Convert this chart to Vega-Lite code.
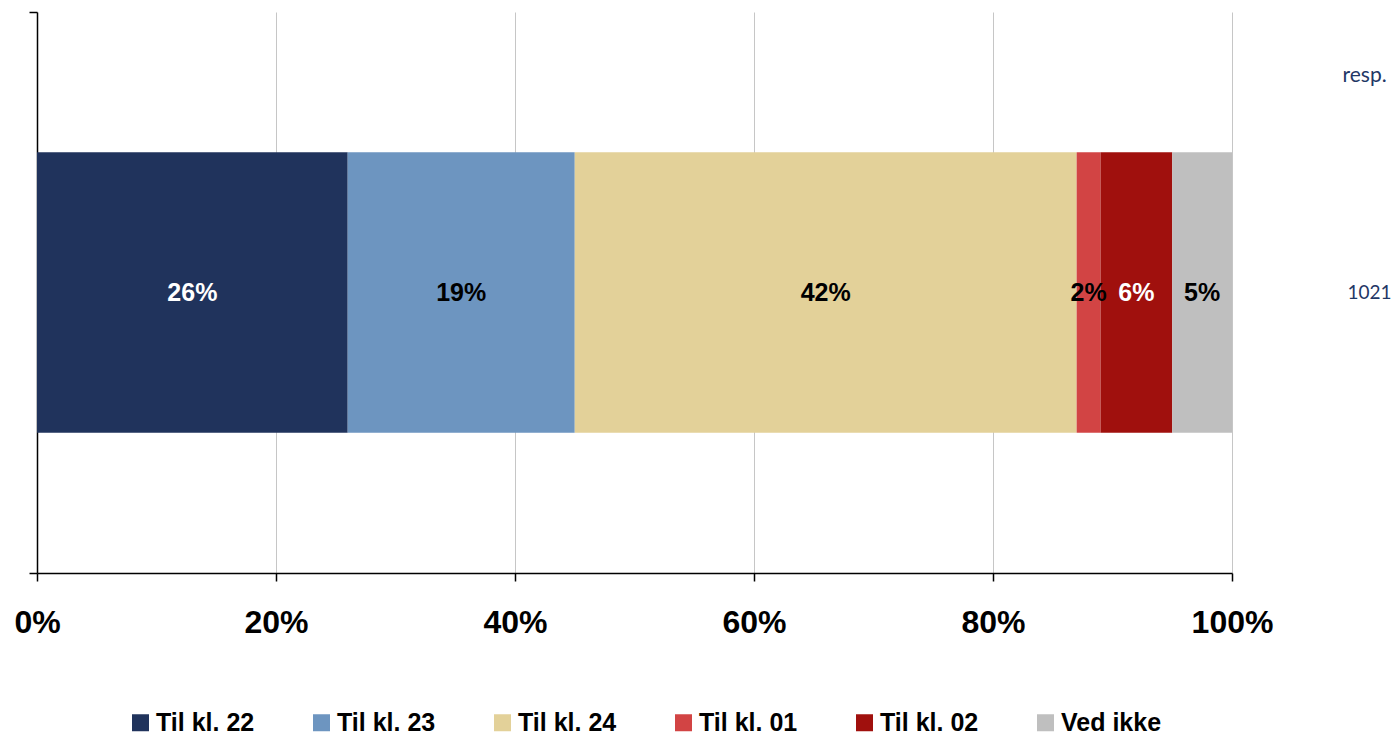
{
  "$schema": "https://vega.github.io/schema/vega-lite/v6.json",
  "autosize": {"type": "none"},
  "width": 1195,
  "height": 561,
  "padding": {"left": 37, "top": 12, "right": 163, "bottom": 163},
  "background": "white",
  "config": {
    "view": {"stroke": null},
    "font": "Liberation Sans"
  },
  "data": {
    "values": [
      {"resp": "1021", "cat": "Til kl. 22", "k": 1, "value": 0.26},
      {"resp": "1021", "cat": "Til kl. 23", "k": 2, "value": 0.19},
      {"resp": "1021", "cat": "Til kl. 24", "k": 3, "value": 0.42},
      {"resp": "1021", "cat": "Til kl. 01", "k": 4, "value": 0.02},
      {"resp": "1021", "cat": "Til kl. 02", "k": 5, "value": 0.06},
      {"resp": "1021", "cat": "Ved ikke", "k": 6, "value": 0.05}
    ]
  },
  "transform": [
    {"stack": "value", "groupby": ["resp"], "sort": [{"field": "k", "order": "ascending"}], "as": ["v0", "v1"]},
    {"calculate": "(datum.v0 + datum.v1) / 2", "as": "mid"}
  ],
  "layer": [
    {
      "mark": {"type": "bar", "height": {"band": 0.5}},
      "encoding": {
        "y": {
          "field": "resp", "type": "nominal",
          "scale": {"paddingInner": 0, "paddingOuter": 0},
          "axis": {
            "orient": "left", "labels": false, "title": null,
            "domainColor": "black", "domainWidth": 1.5,
            "ticks": true, "tickBand": "extent", "tickColor": "black", "tickSize": 8, "tickWidth": 1.5
          }
        },
        "x": {
          "field": "v0", "type": "quantitative",
          "scale": {"domain": [0, 1], "nice": false},
          "axis": {
            "values": [0, 0.2, 0.4, 0.6, 0.8, 1],
            "format": ".0%", "title": null,
            "labelFont": "Liberation Sans", "labelFontWeight": "bold", "labelFontSize": 32, "labelColor": "black",
            "labelPadding": 26, "labelFlush": false,
            "domainColor": "black", "domainWidth": 1.5,
            "tickColor": "black", "tickSize": 8, "tickWidth": 1.5,
            "grid": true, "gridColor": "#c6c6c6", "gridWidth": 1
          }
        },
        "x2": {"field": "v1"},
        "color": {
          "field": "cat", "type": "nominal",
          "scale": {
            "domain": ["Til kl. 22", "Til kl. 23", "Til kl. 24", "Til kl. 01", "Til kl. 02", "Ved ikke"],
            "range": ["#20335C", "#6D95C0", "#E3D199", "#D24444", "#A0100D", "#BFBFBF"]
          },
          "legend": {
            "title": null, "orient": "none", "legendX": 91, "legendY": 698,
            "direction": "horizontal", "columns": 6, "gridAlign": "all",
            "symbolType": "square", "symbolSize": 289, "symbolStrokeWidth": 0, "symbolOpacity": 1,
            "labelFont": "Liberation Sans", "labelFontWeight": "bold", "labelFontSize": 25, "labelColor": "black",
            "labelOffset": 3, "columnPadding": 52, "labelLimit": 300
          }
        }
      }
    },
    {
      "mark": {"type": "text", "font": "Liberation Sans", "fontWeight": "bold", "fontSize": 25, "baseline": "middle", "align": "center"},
      "encoding": {
        "y": {
          "field": "resp", "type": "nominal",
          "axis": {
            "orient": "right", "domain": false, "ticks": false,
            "labelFont": "Lato", "labelFontSize": 19, "labelColor": "#1F3766", "labelPadding": 115, "labelBaseline": "middle",
            "title": "resp.", "titleAngle": 0, "titleFont": "Lato", "titleFontSize": 21, "titleFontWeight": "normal",
            "titleColor": "#1F3766", "titleAlign": "left", "titleBaseline": "middle", "titleX": 110, "titleY": 63
          }
        },
        "x": {"field": "mid", "type": "quantitative"},
        "text": {"field": "value", "type": "quantitative", "format": ".0%"},
        "color": {
          "condition": {"test": "datum.cat === 'Til kl. 22' || datum.cat === 'Til kl. 02'", "value": "white"},
          "value": "black"
        }
      }
    }
  ],
  "resolve": {"axis": {"y": "independent"}}
}
